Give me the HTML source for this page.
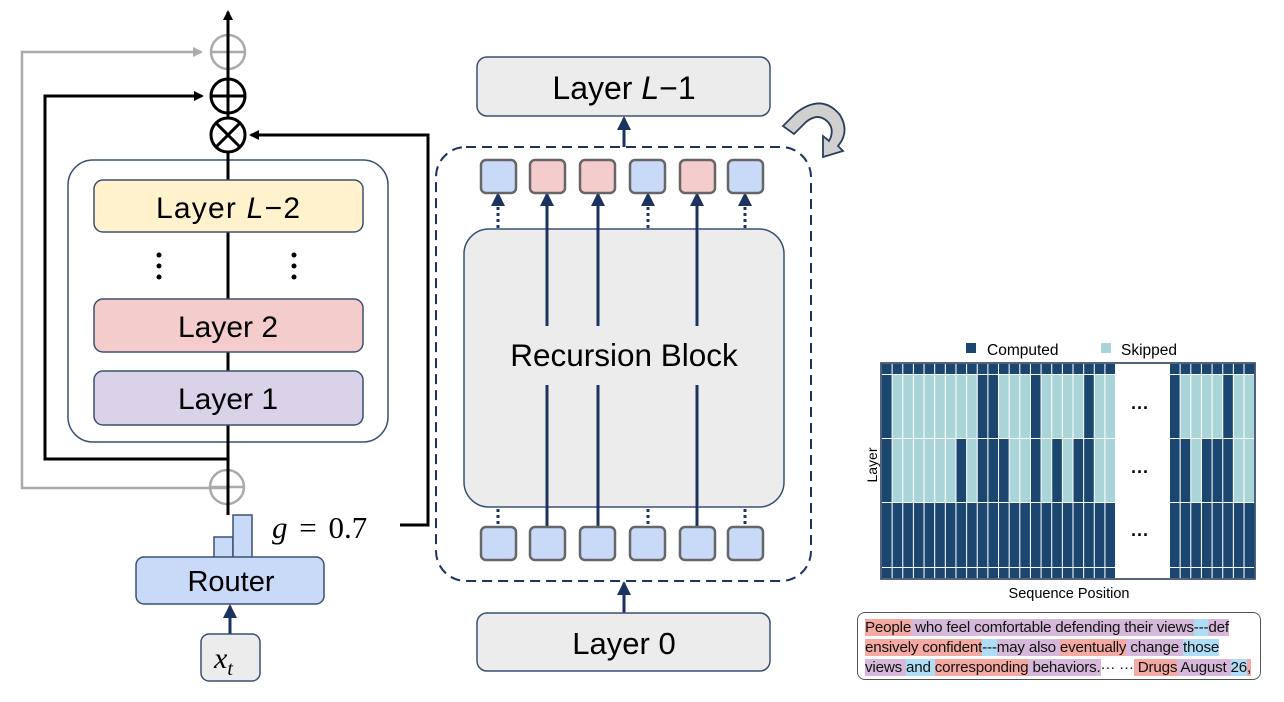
<!DOCTYPE html>
<html><head><meta charset="utf-8"><style>
body{margin:0;background:#fff;width:1284px;height:702px;overflow:hidden;position:relative;font-family:"Liberation Sans","DejaVu Sans",sans-serif}
svg{position:absolute;left:0;top:0}
.tb{position:absolute;left:857px;top:612px;border:1.5px solid #555;border-radius:8px;box-sizing:border-box;width:404px;height:68px;padding:5px 0 0 7px;font-size:15.2px;line-height:20px;color:#111;white-space:nowrap;letter-spacing:-0.2px;overflow:hidden}
.p{background:#f4aaa2}.u{background:#d6b8da}.b{background:#b0ddf6}
</style></head><body>
<svg width="1284" height="702" xmlns="http://www.w3.org/2000/svg" font-family="Liberation Sans, DejaVu Sans, sans-serif">
<defs>
<marker id="ab" markerWidth="10" markerHeight="10" refX="8" refY="5" orient="auto" markerUnits="userSpaceOnUse"><path d="M0,0 L10,5 L0,10z" fill="#000"/></marker>
<marker id="ag" markerWidth="10" markerHeight="10" refX="8" refY="5" orient="auto" markerUnits="userSpaceOnUse"><path d="M0,0 L10,5 L0,10z" fill="#aaa"/></marker>
<marker id="an" markerWidth="14" markerHeight="14" refX="12" refY="7" orient="auto" markerUnits="userSpaceOnUse"><path d="M0,0 L14,7 L0,14z" fill="#1c3360"/></marker>
</defs>
<polyline points="227,488 22,488 22,52 201,52" fill="none" stroke="#aaa" stroke-width="2.5" marker-end="url(#ag)"/>
<circle cx="228" cy="52" r="17" fill="none" stroke="#aaa" stroke-width="2.5"/>
<line x1="211" y1="52" x2="245" y2="52" stroke="#aaa" stroke-width="2.5"/>
<circle cx="227" cy="487" r="17" fill="none" stroke="#aaa" stroke-width="2.5"/>
<line x1="210" y1="487" x2="244" y2="487" stroke="#aaa" stroke-width="2.5"/>
<polyline points="228,459 45,459 45,96 202,96" fill="none" stroke="#000" stroke-width="3" marker-end="url(#ab)"/>
<line x1="228" y1="515" x2="228" y2="12" stroke="#000" stroke-width="3" marker-end="url(#ab)"/>
<circle cx="228" cy="96" r="17" fill="#fff" stroke="#000" stroke-width="3"/>
<line x1="211" y1="96" x2="245" y2="96" stroke="#000" stroke-width="3"/>
<line x1="228" y1="79" x2="228" y2="113" stroke="#000" stroke-width="3"/>
<circle cx="228" cy="135" r="17" fill="#fff" stroke="#000" stroke-width="3"/>
<line x1="216" y1="123" x2="240" y2="147" stroke="#000" stroke-width="3"/>
<line x1="240" y1="123" x2="216" y2="147" stroke="#000" stroke-width="3"/>
<polyline points="400,525 428,525 428,135 251,135" fill="none" stroke="#000" stroke-width="3" marker-end="url(#ab)"/>
<rect x="68" y="160" width="320" height="282" rx="25" fill="none" stroke="#3b5070" stroke-width="1.5"/>
<line x1="228" y1="153" x2="228" y2="515" stroke="#000" stroke-width="3"/>
<rect x="94" y="180" width="269" height="52" rx="9" fill="#fff2cc" stroke="#3b5070" stroke-width="1.5"/>
<text x="228" y="218" font-size="30" text-anchor="middle" textLength="144">Layer <tspan font-style="italic">L</tspan>−2</text>
<g fill="#000"><circle cx="159" cy="255" r="2.5"/><circle cx="159" cy="266" r="2.5"/><circle cx="159" cy="277" r="2.5"/><circle cx="294" cy="255" r="2.5"/><circle cx="294" cy="266" r="2.5"/><circle cx="294" cy="277" r="2.5"/></g>
<rect x="94" y="299" width="269" height="53" rx="9" fill="#f4cccc" stroke="#3b5070" stroke-width="1.5"/>
<text x="228" y="337" font-size="30" text-anchor="middle">Layer 2</text>
<rect x="94" y="371" width="269" height="54" rx="9" fill="#d9d2e9" stroke="#3b5070" stroke-width="1.5"/>
<text x="228" y="409" font-size="30" text-anchor="middle">Layer 1</text>
<rect x="214" y="537" width="19" height="21" fill="#c9daf8" stroke="#3b5070" stroke-width="1.5"/>
<rect x="233" y="515" width="19" height="43" fill="#c9daf8" stroke="#3b5070" stroke-width="1.5"/>
<rect x="136" y="557" width="188" height="47" rx="8" fill="#c9daf8" stroke="#3b5070" stroke-width="1.5"/>
<text x="231" y="591" font-size="29" text-anchor="middle">Router</text>
<line x1="230" y1="636" x2="230" y2="606" stroke="#1c3360" stroke-width="3" marker-end="url(#an)"/>
<rect x="201" y="634" width="59" height="47" rx="8" fill="#ececec" stroke="#3b5070" stroke-width="1.5"/>
<text x="214" y="668" font-size="30" font-style="italic" font-family="Liberation Serif, serif">x<tspan font-size="20" dy="7">t</tspan></text>
<text x="272" y="538" font-size="31" font-family="Liberation Serif, serif" word-spacing="4"><tspan font-style="italic">g</tspan> = 0.7</text>
<rect x="477" y="57" width="293" height="59" rx="10" fill="#ececec" stroke="#3b5070" stroke-width="1.5"/>
<text x="624" y="99" font-size="32" text-anchor="middle">Layer <tspan font-style="italic">L</tspan>−1</text>
<line x1="624" y1="147" x2="624" y2="118" stroke="#1c3360" stroke-width="3" marker-end="url(#an)"/>
<rect x="436" y="147" width="375" height="434" rx="30" fill="none" stroke="#1c3360" stroke-width="2" stroke-dasharray="10,6"/>
<path d="M783,126 L796,113 Q822,93 840,115 Q850,132 838,146 L843,151 L823,157 L823,136 L829,141 Q835,130 828,122 Q818,112 806,122 L794,134 Z" fill="#d0d0d0" stroke="#2c3e5c" stroke-width="1.8"/>
<rect x="464" y="229" width="320" height="278" rx="25" fill="#ececec" stroke="#3b5070" stroke-width="1.5"/>
<text x="624" y="366" font-size="31.5" text-anchor="middle">Recursion Block</text>
<g stroke="#1c3360" stroke-width="3">
<line x1="547" y1="527" x2="547" y2="385"/><line x1="547" y1="326" x2="547" y2="194" marker-end="url(#an)"/>
<line x1="598" y1="527" x2="598" y2="385"/><line x1="598" y1="326" x2="598" y2="194" marker-end="url(#an)"/>
<line x1="697" y1="527" x2="697" y2="385"/><line x1="697" y1="326" x2="697" y2="194" marker-end="url(#an)"/>
</g>
<g stroke="#1c3360" stroke-width="3" stroke-dasharray="3,3">
<line x1="498" y1="228" x2="498" y2="194" marker-end="url(#an)"/>
<line x1="648" y1="228" x2="648" y2="194" marker-end="url(#an)"/>
<line x1="745" y1="228" x2="745" y2="194" marker-end="url(#an)"/>
<line x1="498" y1="509" x2="498" y2="527"/>
<line x1="648" y1="509" x2="648" y2="527"/>
<line x1="745" y1="509" x2="745" y2="527"/>
</g>
<g stroke="#666" stroke-width="2.5">
<rect x="481" y="160" width="35" height="33" rx="5" fill="#c9daf8"/>
<rect x="530" y="160" width="35" height="33" rx="5" fill="#f4cccc"/>
<rect x="580" y="160" width="35" height="33" rx="5" fill="#f4cccc"/>
<rect x="630" y="160" width="35" height="33" rx="5" fill="#c9daf8"/>
<rect x="680" y="160" width="35" height="33" rx="5" fill="#f4cccc"/>
<rect x="728" y="160" width="35" height="33" rx="5" fill="#c9daf8"/>
<rect x="481" y="527" width="35" height="33" rx="5" fill="#c9daf8"/>
<rect x="530" y="527" width="35" height="33" rx="5" fill="#c9daf8"/>
<rect x="580" y="527" width="35" height="33" rx="5" fill="#c9daf8"/>
<rect x="630" y="527" width="35" height="33" rx="5" fill="#c9daf8"/>
<rect x="680" y="527" width="35" height="33" rx="5" fill="#c9daf8"/>
<rect x="728" y="527" width="35" height="33" rx="5" fill="#c9daf8"/>
</g>
<line x1="624" y1="613" x2="624" y2="583" stroke="#1c3360" stroke-width="3" marker-end="url(#an)"/>
<rect x="477" y="613" width="293" height="58" rx="10" fill="#ececec" stroke="#3b5070" stroke-width="1.5"/>
<text x="624" y="654" font-size="31" text-anchor="middle">Layer 0</text>
<rect x="966" y="343" width="10" height="10" fill="#1a4670"/>
<text x="987" y="355" font-size="15.5">Computed</text>
<rect x="1101" y="343" width="10" height="10" fill="#a9d5d9"/>
<text x="1121" y="355" font-size="15.5">Skipped</text>
<text x="872" y="470" font-size="14" text-anchor="middle" transform="rotate(-90 872 465)">Layer</text>
<text x="1069" y="598" font-size="14.5" text-anchor="middle">Sequence Position</text>
<g id="hm"></g>
<rect x="881" y="363" width="374" height="216" fill="none" stroke="#1a3050" stroke-width="1.5"/>
<g fill="#000" font-size="18" font-weight="bold"><text x="1131" y="414">···</text><text x="1131" y="478">···</text><text x="1131" y="541">···</text></g>
</svg>
<div class="tb"><span class="p">People</span><span class="u"> who feel comfortable defending their views</span><span class="b">---</span><span class="u">def</span><br><span class="p">ensively confident</span><span class="b">---</span><span class="u">may also </span><span class="p">eventually</span><span class="u"> change </span><span class="b">those</span><br><span class="u">views </span><span class="b">and </span><span class="p">corresponding</span><span class="u"> behaviors.</span>··· ···<span class="p"> Drugs</span><span class="u"> August </span><span class="b">26</span><span class="p">,</span></div>
<script>
var D="#1a4670",L="#a9d5d9",ns="http://www.w3.org/2000/svg",g=document.getElementById("hm");
var rows=[[364,375],[375,439],[439,503],[503,568],[568,579]];
var r2L=[0,9,10,14,19],r3L=[0,7,9,10,11,14,16,18,19],r2R=[0,5],r3R=[0,1,3,4,5];
function add(x,y,w,h,f){var r=document.createElementNS(ns,"rect");r.setAttribute("x",x);r.setAttribute("y",y);r.setAttribute("width",w);r.setAttribute("height",h);r.setAttribute("fill",f);g.appendChild(r);}
add(881,363,374,216,"#fff");
for(var ri=0;ri<5;ri++){var y0=rows[ri][0],y1=rows[ri][1];
 for(var c=0;c<22;c++){var x=882+c*10.64;var dk=(ri==1?r2L.indexOf(c)>=0:ri==2?r3L.indexOf(c)>=0:true);add(x,y0,9.6,y1-y0-1,dk?D:L);}
 for(var c=0;c<8;c++){var x=1170+c*10.65;var dk=(ri==1?r2R.indexOf(c)>=0:ri==2?r3R.indexOf(c)>=0:true);add(x,y0,9.6,y1-y0-1,dk?D:L);}
}
</script>
</body></html>
